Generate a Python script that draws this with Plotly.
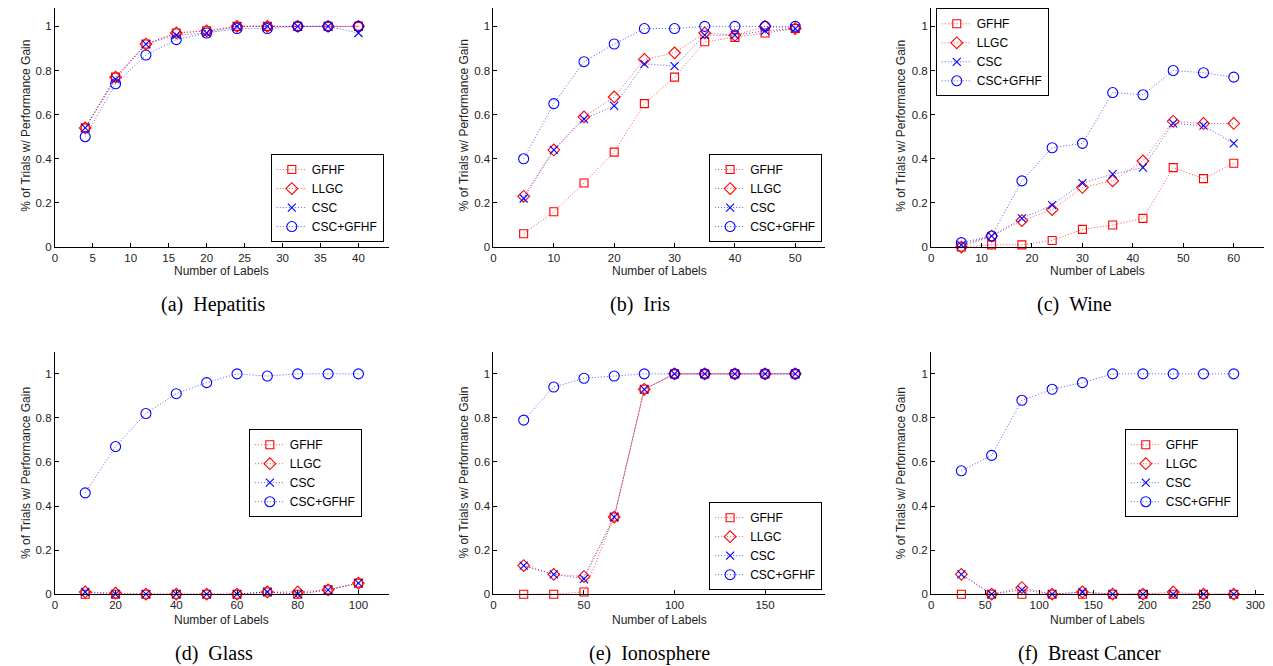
import plotly.graph_objects as go

# ---------------- data ----------------
series_names = ["GFHF", "LLGC", "CSC", "CSC+GFHF"]
y_ticks = [0, 0.2, 0.4, 0.6, 0.8, 1.0]
y_tick_labels = ["0", "0.2", "0.4", "0.6", "0.8", "1"]

# (a) Hepatitis
hep_x = [4, 8, 12, 16, 20, 24, 28, 32, 36, 40]
hep_gfhf = [0.54, 0.77, 0.92, 0.97, 0.98, 1.0, 1.0, 1.0, 1.0, 1.0]
hep_llgc = [0.54, 0.77, 0.92, 0.97, 0.98, 1.0, 1.0, 1.0, 1.0, 1.0]
hep_csc = [0.54, 0.76, 0.92, 0.96, 0.97, 1.0, 1.0, 1.0, 1.0, 0.97]
hep_cscgfhf = [0.50, 0.74, 0.87, 0.94, 0.97, 0.99, 0.99, 1.0, 1.0, 1.0]
hep_xticks = [0, 5, 10, 15, 20, 25, 30, 35, 40]

# (b) Iris
iris_x = [5, 10, 15, 20, 25, 30, 35, 40, 45, 50]
iris_gfhf = [0.06, 0.16, 0.29, 0.43, 0.65, 0.77, 0.93, 0.95, 0.97, 0.99]
iris_llgc = [0.23, 0.44, 0.59, 0.68, 0.85, 0.88, 0.97, 0.96, 1.0, 0.99]
iris_csc = [0.22, 0.44, 0.58, 0.64, 0.83, 0.82, 0.96, 0.96, 0.98, 0.99]
iris_cscgfhf = [0.40, 0.65, 0.84, 0.92, 0.99, 0.99, 1.0, 1.0, 1.0, 1.0]
iris_xticks = [0, 10, 20, 30, 40, 50]

# (c) Wine
wine_x = [6, 12, 18, 24, 30, 36, 42, 48, 54, 60]
wine_gfhf = [0.0, 0.01, 0.01, 0.03, 0.08, 0.10, 0.13, 0.36, 0.31, 0.38]
wine_llgc = [0.0, 0.05, 0.12, 0.17, 0.27, 0.30, 0.39, 0.57, 0.56, 0.56]
wine_csc = [0.01, 0.05, 0.13, 0.19, 0.29, 0.33, 0.36, 0.56, 0.55, 0.47]
wine_cscgfhf = [0.02, 0.05, 0.30, 0.45, 0.47, 0.70, 0.69, 0.80, 0.79, 0.77]
wine_xticks = [0, 10, 20, 30, 40, 50, 60]

# (d) Glass
glass_x = [10, 20, 30, 40, 50, 60, 70, 80, 90, 100]
glass_gfhf = [0.0, 0.0, 0.0, 0.0, 0.0, 0.0, 0.01, 0.0, 0.02, 0.05]
glass_llgc = [0.01, 0.005, 0.0, 0.0, 0.0, 0.0, 0.01, 0.01, 0.02, 0.05]
glass_csc = [0.01, 0.0, 0.0, 0.0, 0.0, 0.0, 0.01, 0.0, 0.02, 0.05]
glass_cscgfhf = [0.46, 0.67, 0.82, 0.91, 0.96, 1.0, 0.99, 1.0, 1.0, 1.0]
glass_xticks = [0, 20, 40, 60, 80, 100]

# (e) Ionosphere
iono_x = [16.7, 33.3, 50, 66.7, 83.3, 100, 116.7, 133.3, 150, 166.7]
iono_gfhf = [0.0, 0.0, 0.01, 0.35, 0.93, 1.0, 1.0, 1.0, 1.0, 1.0]
iono_llgc = [0.13, 0.09, 0.08, 0.35, 0.93, 1.0, 1.0, 1.0, 1.0, 1.0]
iono_csc = [0.13, 0.09, 0.07, 0.35, 0.93, 1.0, 1.0, 1.0, 1.0, 1.0]
iono_cscgfhf = [0.79, 0.94, 0.98, 0.99, 1.0, 1.0, 1.0, 1.0, 1.0, 1.0]
iono_xticks = [0, 50, 100, 150]

# (f) Breast Cancer
bc_x = [28, 56, 84, 112, 140, 168, 196, 224, 252, 280]
bc_gfhf = [0.0, 0.0, 0.0, 0.0, 0.0, 0.0, 0.0, 0.0, 0.0, 0.0]
bc_llgc = [0.09, 0.0, 0.03, 0.0, 0.01, 0.0, 0.0, 0.01, 0.0, 0.0]
bc_csc = [0.09, 0.0, 0.02, 0.0, 0.01, 0.0, 0.0, 0.0, 0.0, 0.0]
bc_cscgfhf = [0.56, 0.63, 0.88, 0.93, 0.96, 1.0, 1.0, 1.0, 1.0, 1.0]
bc_xticks = [0, 50, 100, 150, 200, 250, 300]

captions = ["(a)\u00a0\u00a0Hepatitis", "(b)\u00a0\u00a0Iris", "(c)\u00a0\u00a0Wine",
            "(d)\u00a0\u00a0Glass", "(e)\u00a0\u00a0Ionosphere", "(f)\u00a0\u00a0Breast Cancer"]

panels = [
    (hep_x, [hep_gfhf, hep_llgc, hep_csc, hep_cscgfhf], hep_xticks),
    (iris_x, [iris_gfhf, iris_llgc, iris_csc, iris_cscgfhf], iris_xticks),
    (wine_x, [wine_gfhf, wine_llgc, wine_csc, wine_cscgfhf], wine_xticks),
    (glass_x, [glass_gfhf, glass_llgc, glass_csc, glass_cscgfhf], glass_xticks),
    (iono_x, [iono_gfhf, iono_llgc, iono_csc, iono_cscgfhf], iono_xticks),
    (bc_x, [bc_gfhf, bc_llgc, bc_csc, bc_cscgfhf], bc_xticks),
]

# ---------------- layout geometry (page pixels) ----------------
OFF = 8          # default body margin of the html page
SY = 0.9894      # observed vertical scale of the capture
W, H = 1265, 660


def px(xp):
    return min(max((xp - OFF) / W, 0.0), 1.0)


def fy(yp):
    """page pixel row -> figure pixel row"""
    return (yp - OFF) / SY


def py(yp):
    return min(max(1 - fy(yp) / H, 0.0), 1.0)


col_px = [(52, 387), (492, 825), (931, 1265)]
row_px = [(4.3, 246.7), (351.3, 593.3)]   # pixel rows for y = 1.1 and y = 0
ytitle_px = [23, 462, 901]
xtitle_py = [270.5, 619]
caption_py = [304, 653]
caption_px = [211, 639, 1075, 212, 649, 1090]

# legend placement: (x, y, xanchor, yanchor) in page px
legend_pos = [
    (382, 241.7, "right", "bottom"),
    (821.7, 241.7, "right", "bottom"),
    (935.7, 8.3, "left", "top"),
    (303.3, 472.5, "center", "middle"),
    (821.7, 589.3, "right", "bottom"),
    (1182, 472.5, "center", "middle"),
]

SANS = "Liberation Sans, Arial, Helvetica, sans-serif"
SERIF = "Liberation Serif, Times New Roman, serif"
RED = "#ff0000"
BLUE = "#0000ff"
styles = [
    dict(symbol="square-open", size=8, color=RED, line="rgba(255,0,0,0.7)"),
    dict(symbol="diamond-open", size=9, color=RED, line="rgba(255,0,0,0.7)"),
    dict(symbol="x-thin-open", size=8, color=BLUE, line="rgba(0,0,255,0.65)"),
    dict(symbol="circle-open", size=10, color=BLUE, line="rgba(0,0,255,0.65)"),
]

fig = go.Figure()
layout = dict(
    width=W, height=H,
    margin=dict(l=0, r=0, t=0, b=0),
    paper_bgcolor="white", plot_bgcolor="white",
    font=dict(family=SANS, size=12, color="black"),
    showlegend=True,
    annotations=[],
)

for i, (xs, ys_list, xt) in enumerate(panels):
    k = i + 1
    r, c = divmod(i, 3)
    suffix = "" if k == 1 else str(k)
    xname, yname = "x" + suffix, "y" + suffix
    lname = "legend" + suffix
    for j, ys in enumerate(ys_list):
        st = styles[j]
        fig.add_trace(go.Scatter(
            x=xs, y=ys, mode="lines+markers", name=series_names[j],
            xaxis=xname, yaxis=yname, legend=lname,
            line=dict(color=st["line"], width=1, dash="1px,2px"),
            marker=dict(symbol=st["symbol"], size=st["size"], color=st["color"],
                        line=dict(width=1.1, color=st["color"])),
            cliponaxis=False,
        ))
    x0, x1 = col_px[c]
    t0, t1 = row_px[r]
    f0, f1 = fy(t0), fy(t1)
    f0c = max(f0, 0.0)
    ymax = 1.1 * (f1 - f0c) / (f1 - f0)
    axis_common = dict(showline=True, linecolor="black", linewidth=1,
                       ticks="inside", ticklen=4, tickwidth=1, tickcolor="black",
                       showgrid=False, zeroline=False, mirror=False,
                       ticklabeloverflow="allow",
                       tickfont=dict(family=SANS, size=11.5, color="#222222"))
    layout["xaxis" + suffix] = dict(
        domain=[px(x0), px(x1)], anchor=yname,
        range=[0, 1.1 * max(xs)], tickmode="array", tickvals=xt,
        ticktext=[str(v) for v in xt], **axis_common)
    layout["yaxis" + suffix] = dict(
        domain=[1 - f1 / H, 1 - f0c / H], anchor=xname,
        range=[0, ymax], tickmode="array", tickvals=y_ticks,
        ticktext=y_tick_labels, **axis_common)
    lx, ly, xa, ya = legend_pos[i]
    layout[lname] = dict(
        x=px(lx), y=py(ly), xanchor=xa, yanchor=ya,
        bordercolor="black", borderwidth=1, bgcolor="white",
        font=dict(family=SANS, size=12, color="black"),
        itemwidth=30, tracegroupgap=0, traceorder="normal",
    )
    # axis titles
    layout["annotations"].append(dict(
        text="% of Trials w/ Performance Gain", xref="paper", yref="paper",
        x=px(ytitle_px[c]), y=py((t0 + t1) / 2), textangle=-90,
        showarrow=False, xanchor="center", yanchor="middle",
        font=dict(family=SANS, size=12, color="#222222")))
    layout["annotations"].append(dict(
        text="Number of Labels", xref="paper", yref="paper",
        x=px((x0 + x1) / 2), y=py(xtitle_py[r]),
        showarrow=False, xanchor="center", yanchor="middle",
        font=dict(family=SANS, size=12, color="#222222")))
    layout["annotations"].append(dict(
        text=captions[i], xref="paper", yref="paper",
        x=px(caption_px[i]), y=py(caption_py[r]),
        showarrow=False, xanchor="center", yanchor="middle",
        font=dict(family=SERIF, size=20, color="black")))

fig.update_layout(**layout)
fig.write_html("out.html")
